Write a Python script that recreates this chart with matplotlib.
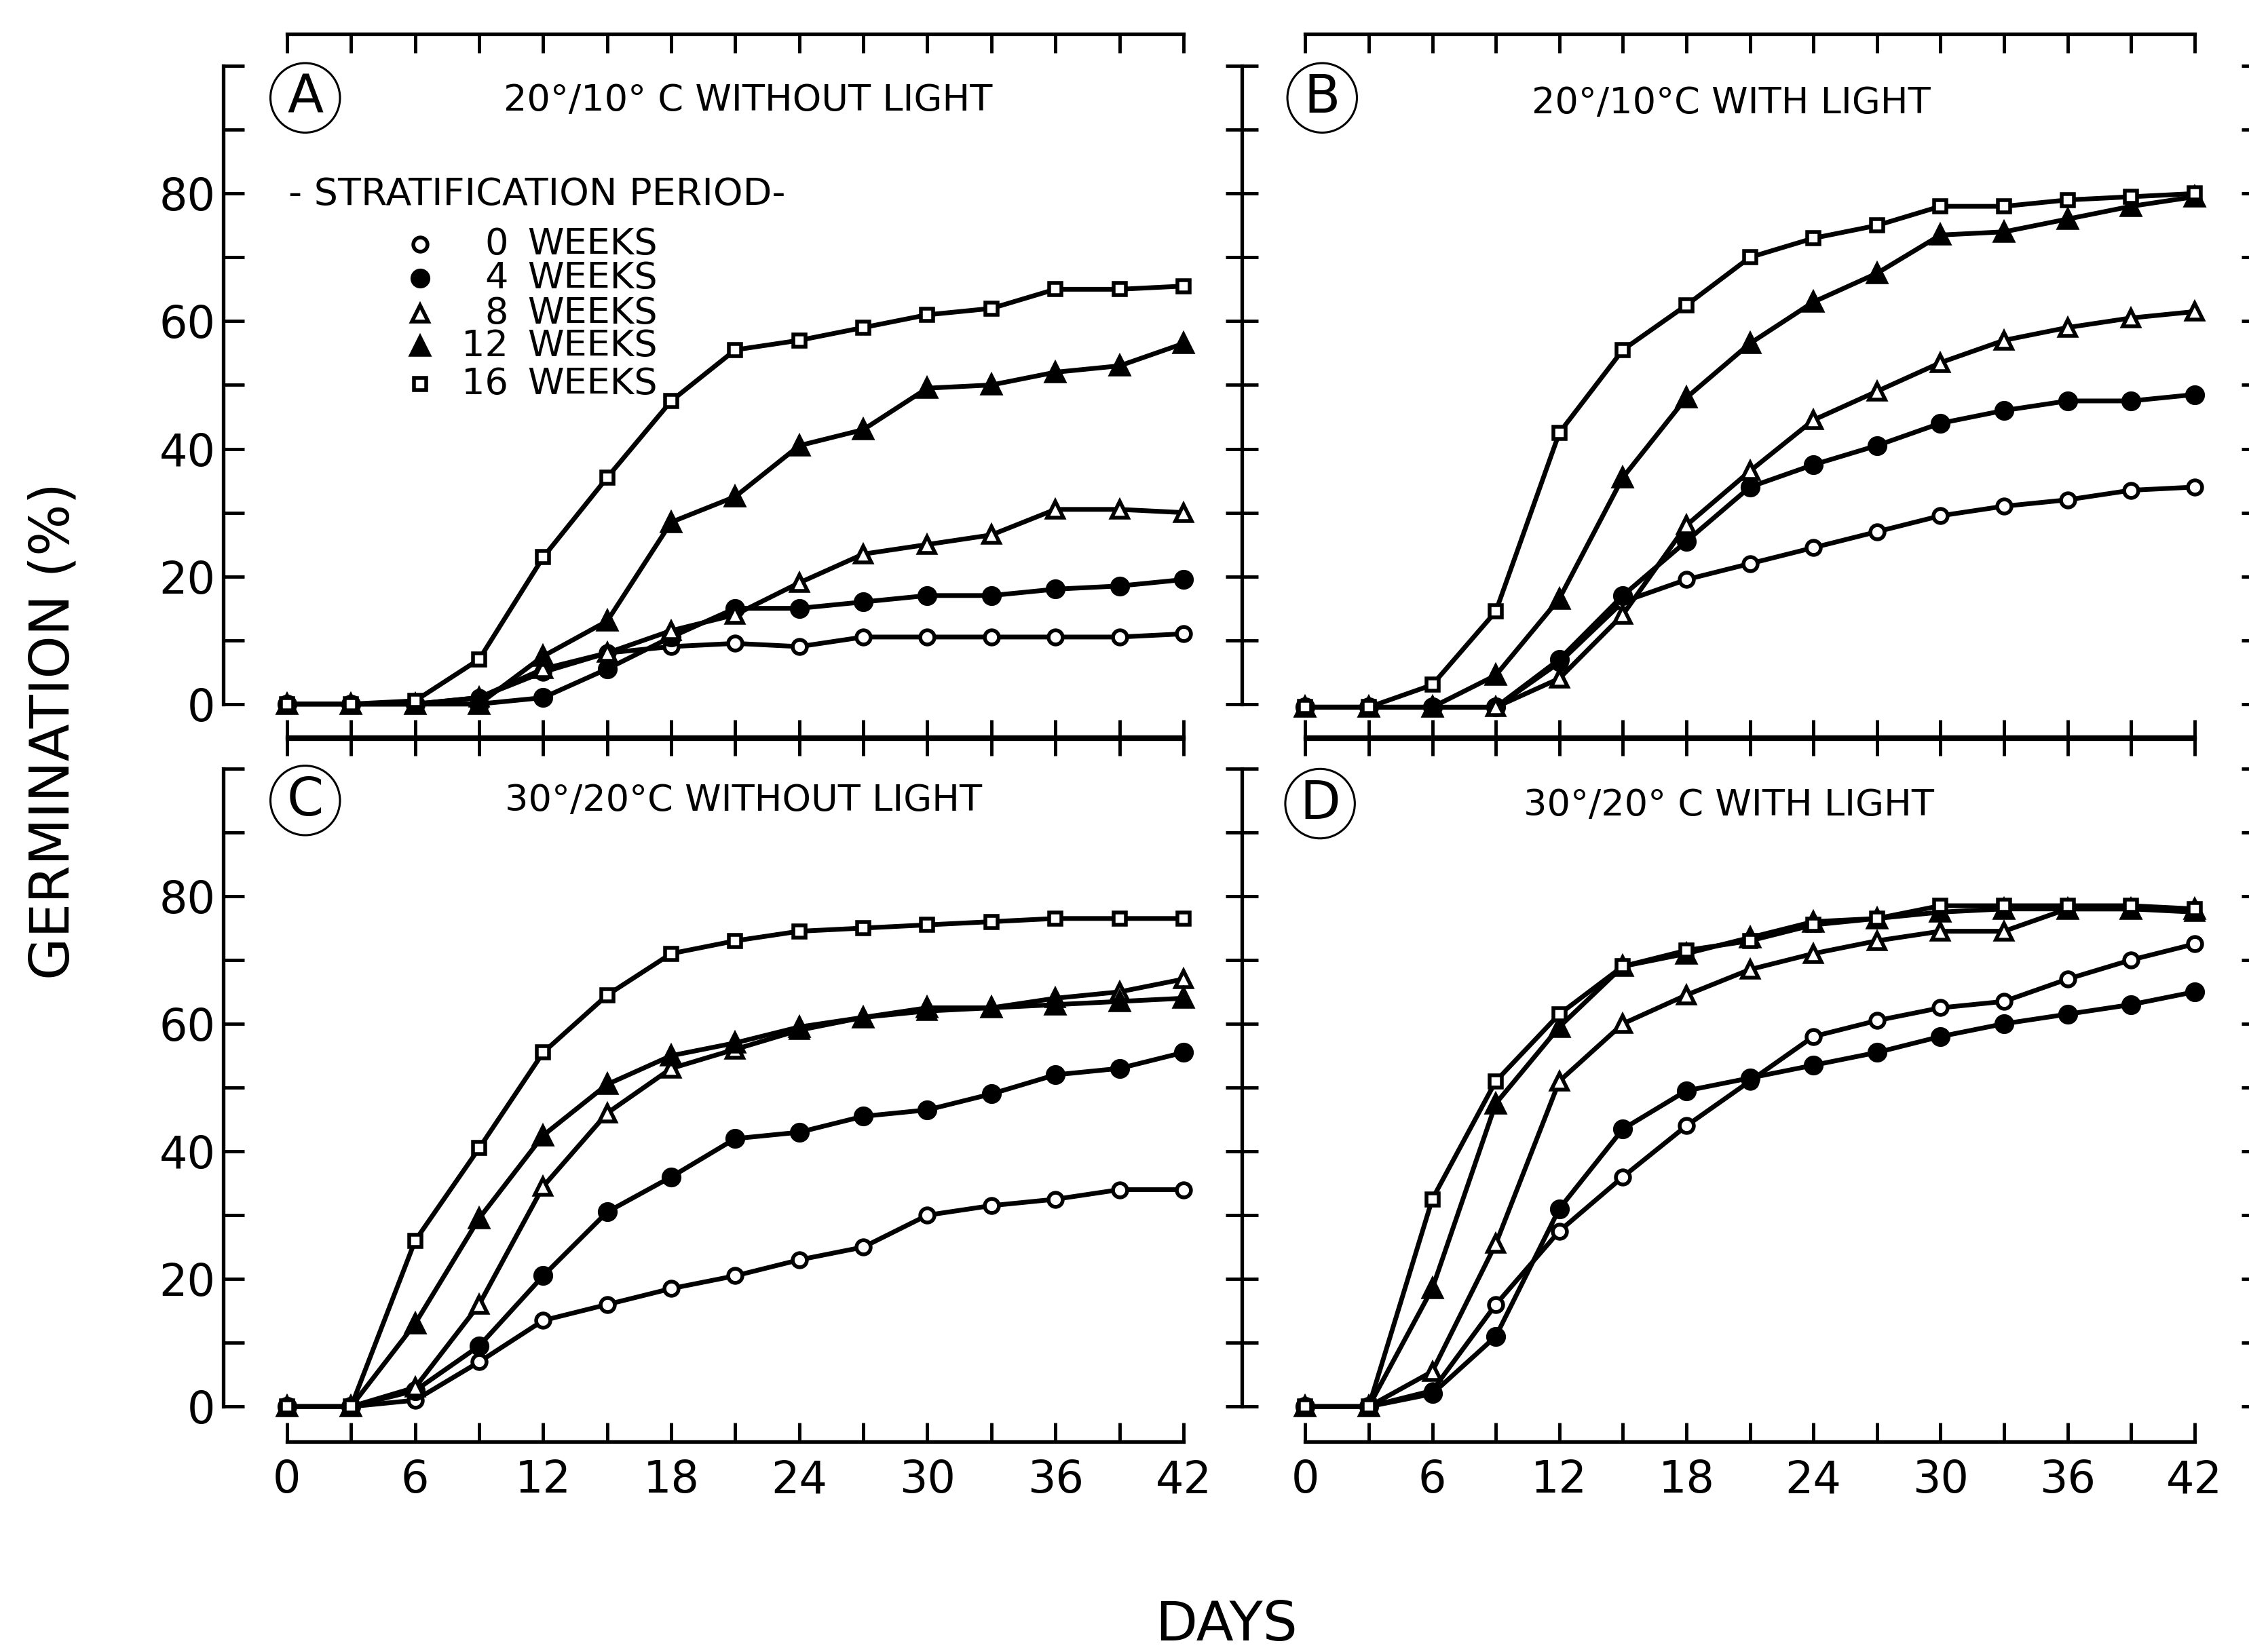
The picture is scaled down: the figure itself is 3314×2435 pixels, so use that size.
import matplotlib
matplotlib.use("Agg")
import matplotlib.pyplot as plt

# ---------------- data ----------------
days = [0, 3, 6, 9, 12, 15, 18, 21, 24, 27, 30, 33, 36, 39, 42]
period_labels = ["0", "4", "8", "12", "16"]

ytick_values = [0, 10, 20, 30, 40, 50, 60, 70, 80, 90, 100]
ytick_labels = ["0", "", "20", "", "40", "", "60", "", "80", "", ""]
xtick_labels = ["0", "", "6", "", "12", "", "18", "", "24", "", "30", "", "36", "", "42"]

panel_letters = ["A", "B", "C", "D"]
panel_titles = ["20°/10° C WITHOUT LIGHT", "20°/10°C WITH LIGHT",
                "30°/20°C WITHOUT LIGHT", "30°/20° C WITH LIGHT"]

# Panel A: 20/10 C without light
A_w0 = [0, 0, 0, 1, 5, 8, 9, 9.5, 9, 10.5, 10.5, 10.5, 10.5, 10.5, 11]
A_w4 = [0, 0, 0, 0, 1, 5.5, 10.5, 15, 15, 16, 17, 17, 18, 18.5, 19.5]
A_w8 = [0, 0, 0, 1, 5.5, 8, 11.5, 14, 19, 23.5, 25, 26.5, 30.5, 30.5, 30]
A_w12 = [0, 0, 0, 0, 7.5, 13, 28.5, 32.5, 40.5, 43, 49.5, 50, 52, 53, 56.5]
A_w16 = [0, 0, 0.5, 7, 23, 35.5, 47.5, 55.5, 57, 59, 61, 62, 65, 65, 65.5]

# Panel B: 20/10 C with light
B_w0 = [-0.5, -0.5, -0.5, -0.5, 6.5, 16, 19.5, 22, 24.5, 27, 29.5, 31, 32, 33.5, 34]
B_w4 = [-0.5, -0.5, -0.5, -0.5, 7, 17, 25.5, 34, 37.5, 40.5, 44, 46, 47.5, 47.5, 48.5]
B_w8 = [-0.5, -0.5, -0.5, -0.5, 4, 14, 28, 36.5, 44.5, 49, 53.5, 57, 59, 60.5, 61.5]
B_w12 = [-0.5, -0.5, -0.5, 4.5, 16.5, 35.5, 48, 56.5, 63, 67.5, 73.5, 74, 76, 78, 79.5]
B_w16 = [-0.5, -0.5, 3, 14.5, 42.5, 55.5, 62.5, 70, 73, 75, 78, 78, 79, 79.5, 80]

# Panel C: 30/20 C without light
C_w0 = [0, 0, 1, 7, 13.5, 16, 18.5, 20.5, 23, 25, 30, 31.5, 32.5, 34, 34]
C_w4 = [0, 0, 2.5, 9.5, 20.5, 30.5, 36, 42, 43, 45.5, 46.5, 49, 52, 53, 55.5]
C_w8 = [0, 0, 3, 16, 34.5, 46, 53, 56, 59, 61, 62, 62.5, 64, 65, 67]
C_w12 = [0, 0, 13, 29.5, 42.5, 50.5, 55, 57, 59.5, 61, 62.5, 62.5, 63, 63.5, 64]
C_w16 = [0, 0, 26, 40.5, 55.5, 64.5, 71, 73, 74.5, 75, 75.5, 76, 76.5, 76.5, 76.5]

# Panel D: 30/20 C with light
D_w0 = [0, 0, 2.5, 16, 27.5, 36, 44, 51, 58, 60.5, 62.5, 63.5, 67, 70, 72.5]
D_w4 = [0, 0, 2, 11, 31, 43.5, 49.5, 51.5, 53.5, 55.5, 58, 60, 61.5, 63, 65]
D_w8 = [0, 0, 5.5, 25.5, 51, 60, 64.5, 68.5, 71, 73, 74.5, 74.5, 78, 78, 77.5]
D_w12 = [0, 0, 18.5, 47.5, 59.5, 69, 71, 73.5, 76, 76.5, 77.5, 78, 78, 78, 78]
D_w16 = [0, 0, 32.5, 51, 61.5, 69, 71.5, 73, 75.5, 76.5, 78.5, 78.5, 78.5, 78.5, 78]

panels = [
    [A_w0, A_w4, A_w8, A_w12, A_w16],
    [B_w0, B_w4, B_w8, B_w12, B_w16],
    [C_w0, C_w4, C_w8, C_w12, C_w16],
    [D_w0, D_w4, D_w8, D_w12, D_w16],
]

# ---------------- styles ----------------
marker_styles = [
    dict(marker="o", mfc="white", ms=15),
    dict(marker="o", mfc="black", ms=17),
    dict(marker="^", mfc="white", ms=17),
    dict(marker="^", mfc="black", ms=19),
    dict(marker="s", mfc="white", ms=13),
]

plt.rcParams["font.family"] = ["DejaVu Sans"]

W, H = 3314, 2435
fig = plt.figure(figsize=(W / 100, H / 100), dpi=100)

X_PER_DAY_L, X_PER_DAY_R = 31.45, 31.2
Y_PER_UNIT = 9.405
YMIN, YMAX = -5.5, 105


def make_axes(x0, xpd, xmin, xmax, y0):
    left = x0 + xmin * xpd
    right = x0 + xmax * xpd
    top = y0 - YMAX * Y_PER_UNIT
    bottom = y0 - YMIN * Y_PER_UNIT
    ax = fig.add_axes([left / W, 1 - bottom / H, (right - left) / W, (bottom - top) / H])
    ax.set_xlim(xmin, xmax)
    ax.set_ylim(YMIN, YMAX)
    ax.patch.set_alpha(0)
    return ax


axes = [
    make_axes(423.0, X_PER_DAY_L, -3, 43, 1037.7),
    make_axes(1923.3, X_PER_DAY_R, -3, 45.0, 1037.7),
    make_axes(423.0, X_PER_DAY_L, -3, 43, 2073.3),
    make_axes(1923.3, X_PER_DAY_R, -3, 45.0, 2073.3),
]

title_pos = [(21.6, 94.6), (20.1, 94.2), (21.4, 95.0), (20.0, 94.2)]
letter_pos = [(0.85, 95.0), (0.8, 95.0), (0.85, 95.0), (0.7, 94.5)]

for i, ax in enumerate(axes):
    right_panel = i in (1, 3)
    bottom_panel = i in (2, 3)
    for side in ("left", "right", "top", "bottom"):
        ax.spines[side].set_linewidth(3.8)
    ax.spines["left"].set_bounds(0, 100)
    ax.spines["right"].set_bounds(0, 100)
    ax.spines["top"].set_bounds(0, 42)
    ax.spines["bottom"].set_bounds(0, 42)
    ax.spines["right"].set_visible(right_panel)

    ax.set_xticks(days)
    ax.set_yticks(ytick_values)
    ax.tick_params(axis="x", which="both", top=True, bottom=True, direction="in",
                   length=20, width=3.5, labelsize=47, pad=18)
    if right_panel:
        ax.tick_params(axis="y", left=True, right=True, direction="inout",
                       length=34, width=3.5, labelleft=False)
    else:
        ax.tick_params(axis="y", left=True, right=False, direction="in",
                       length=22, width=3.5, labelsize=47, pad=8)
        ax.set_yticklabels(ytick_labels)
    if bottom_panel:
        ax.set_xticklabels(xtick_labels)
    else:
        ax.tick_params(axis="x", labelbottom=False)

    for vals, st in zip(panels[i], marker_styles):
        ax.plot(days, vals, color="black", lw=5, mec="black", mew=4,
                clip_on=False, **st)

    tx, ty = title_pos[i]
    ax.text(tx, ty, panel_titles[i], fontsize=39, ha="center", va="center")
    lx, ly = letter_pos[i]
    ax.text(lx, ly, panel_letters[i], fontsize=56, ha="center", va="center",
            bbox=dict(boxstyle="circle,pad=0.17", fc="none", ec="black", lw=2.2))

# legend in panel A
axA = axes[0]
axA.text(0.06, 79.8, "- STRATIFICATION PERIOD-", fontsize=40, ha="left", va="center")
legend_rows = [72.1, 66.7, 61.2, 56.1, 50.2]
for lab, st, yy in zip(period_labels, marker_styles, legend_rows):
    axA.plot([6.23], [yy], color="black", linestyle="none", mec="black", mew=4, **st)
    axA.text(10.37, yy, lab, fontsize=39, ha="right", va="center")
    axA.text(11.26, yy, "WEEKS", fontsize=39, ha="left", va="center")

fig.text(80 / W, 1 - 1078 / H, "GERMINATION (%)", rotation=90, fontsize=58,
         ha="center", va="center")
fig.text(1807 / W, 1 - 2396 / H, "DAYS", fontsize=58, ha="center", va="center")

fig.savefig("out.png", dpi=100, facecolor="white")
